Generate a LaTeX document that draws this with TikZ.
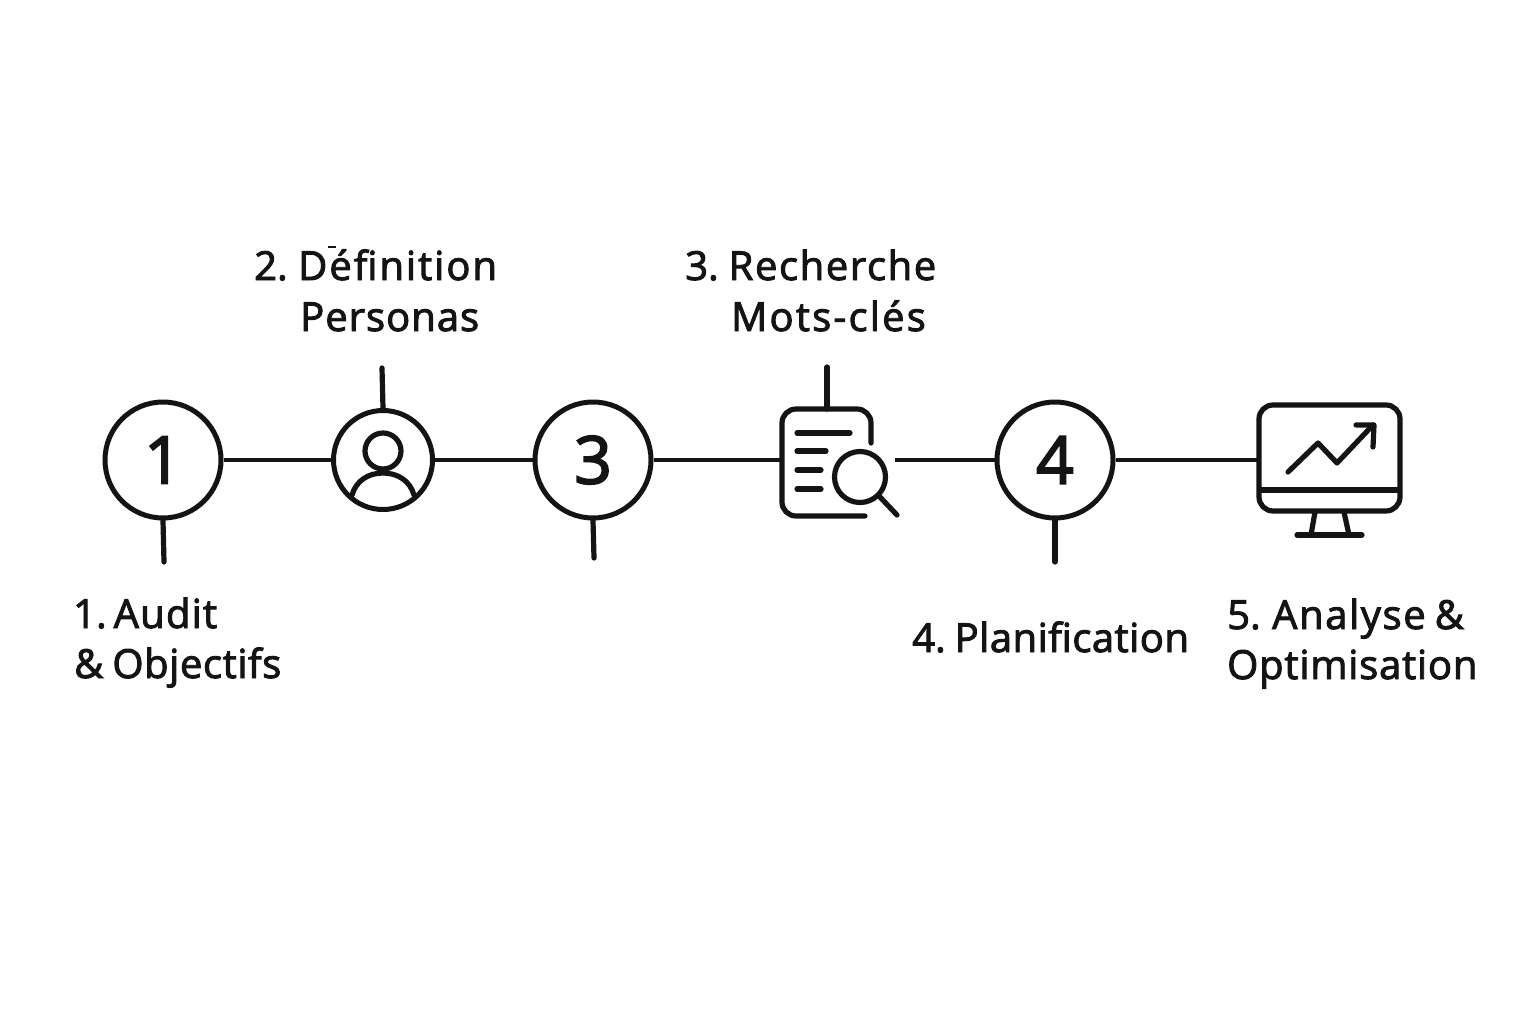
\documentclass[tikz,border=0pt]{standalone}
\usepackage{fontspec}
\setmainfont{Open Sans}
\newfontfamily\lab[FakeBold=2.4]{Open Sans}
\newfontfamily\dig[FakeBold=2.7]{Open Sans}
\newcommand{\gapsp}[1]{\spaceskip=#1pt\relax}
\newcommand{\tracked}[2]{\addfontfeature{LetterSpace=#1}\spaceskip=#2pt\relax}
\definecolor{ink}{HTML}{141414}
\tikzset{
  x=1pt,y=-1pt,
  ln/.style={draw=ink,line width=5.2pt,line cap=round,line join=round},
  conn/.style={draw=ink,line width=4.6pt},
  num/.style={draw=ink,line width=5pt,circle,inner sep=0pt,minimum size=116pt,text=ink,font=\dig\fontsize{66}{66}\selectfont},
  ring/.style={draw=ink,line width=5pt,circle,inner sep=0pt,minimum size=99pt},
  lbl/.style={anchor=base west,inner sep=0pt,text=ink,font=\lab\fontsize{40}{40}\selectfont},
}
\begin{document}
\begin{tikzpicture}
\useasboundingbox (0,0) rectangle (1536,1024);
\fill[white] (0,0) rectangle (1536,1024);

% step nodes
\node[num] (c1) at (163,460) {1};
\node[ring] (c2) at (383,460) {};
\node[num] (c3) at (593,460) {3};
\node[num] (c4) at (1055,460) {4};
\coordinate (docL) at (782,460);
\coordinate (docR) at (895,460);
\coordinate (monL) at (1259,460);

% connectors
\draw[conn] (c1) -- (c2);
\draw[conn] (c2) -- (c3);
\draw[conn] (c3) -- (docL);
\draw[conn] (docR) -- (c4);
\draw[conn] (c4) -- (monL);

% stubs
\coordinate (s1) at (164,562);
\coordinate (s2) at (382,368);
\coordinate (s3) at (594,558);
\coordinate (s4) at (827,367);
\coordinate (s5) at (1055,562);
\draw[ln] (s1) -- (c1.south);
\draw[ln] (s2) -- (c2.north);
\draw[ln] (s3) -- (c3.south);
\draw[ln] (s4) -- (827,409);
\draw[ln] (s5) -- (c4.south);

% person icon
\draw[ln] (383,451) circle (18);
\draw[ln] (352,495) .. controls (356,481) and (368,473) .. (383,473) .. controls (398,473) and (410,481) .. (414,495);

% document icon
\draw[ln] (865,516) -- (796,516) arc[start angle=90,end angle=180,radius=14] -- (782,423) arc[start angle=180,end angle=270,radius=14] -- (857,409) arc[start angle=270,end angle=360,radius=14] -- (871,443);
\draw[ln] (797,433) -- (850,433);
\draw[ln] (797,451) -- (826,451);
\draw[ln] (797,470) -- (821,470);
\draw[ln] (797,489) -- (821,489);
\draw[ln] (860,477) circle (25.5);
\draw[ln] (879,496) -- (897,515);

% monitor icon
\draw[ln] (1273,405) -- (1386,405) arc[start angle=270,end angle=360,radius=14] -- (1400,497) arc[start angle=0,end angle=90,radius=14] -- (1273,511) arc[start angle=90,end angle=180,radius=14] -- (1259,419) arc[start angle=180,end angle=270,radius=14] -- cycle;
\draw[ln] (1260,490) -- (1399,490);
\draw[ln] (1288,472) -- (1318,443) -- (1337,463) -- (1373,425);
\draw[ln] (1356,425) -- (1374,425) -- (1373,447);
\draw[ln] (1315,512) -- (1311,535);
\draw[ln] (1344,512) -- (1349,535);
\draw[ln] (1297,535) -- (1362,535);

% labels
\node[lbl] (t1a) at (73,628) {\gapsp{3.5}1. {\tracked{3}{9}Audit}};
\node[lbl] (t1b) at (74,678) {\tracked{1.5}{9}\& Objectifs};
\node[lbl] (t2a) at (254,280) {\gapsp{7}2. {\tracked{5}{9}Définition}};
\node[lbl] (t2b) at (300,331) {\tracked{2.5}{9}Personas};
\node[lbl] (t3a) at (685,280) {\gapsp{6.5}3. {\tracked{4}{9}Recherche}};
\node[lbl] (t3b) at (731,331) {\tracked{5.5}{9}Mots-clés};
\node[lbl] (t4) at (912,652) {\gapsp{5.5}4. {\tracked{1.2}{9}Planification}};
\node[lbl] (t5a) at (1227,629) {\gapsp{8}5. {\tracked{4}{9}Analyse \&}};
\node[lbl] (t5b) at (1227,679) {\tracked{2}{9}Optimisation};
\coordinate (accentL) at (328,247);
\coordinate (accentR) at (336,247);
\draw[draw=ink,line width=1.2pt] (accentL) -- (accentR);
\end{tikzpicture}
\end{document}
